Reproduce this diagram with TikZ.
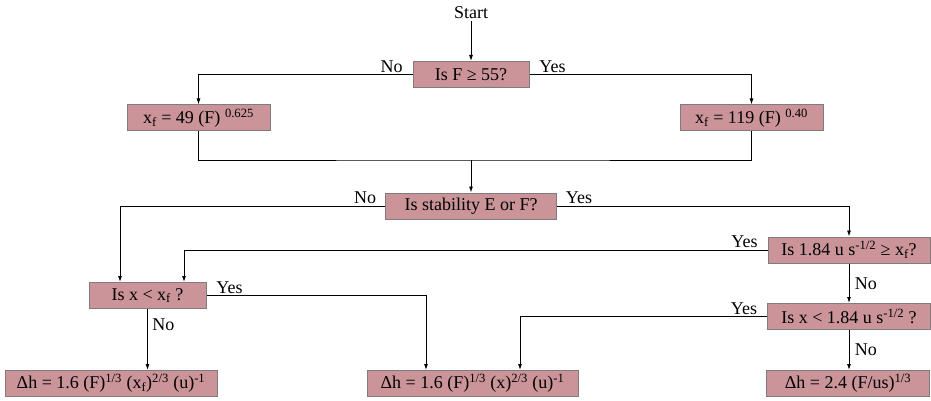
\documentclass[tikz,border=0pt]{standalone}
\usepackage{fontspec}
\setmainfont{Liberation Serif}
\usetikzlibrary{positioning, arrows.meta}
\definecolor{BoxFill}{RGB}{202,148,153}
\definecolor{BoxLine}{RGB}{125,125,125}
\tikzset{
  box/.style={draw=BoxLine, fill=BoxFill, line width=1pt, minimum height=26pt, inner sep=0pt, font=\fontsize{18}{20}\selectfont},
  link/.style={line width=0.9pt, -{Latex[length=6pt,width=4pt]}},
  plain/.style={line width=0.9pt},
  lbl/.style={font=\fontsize{18}{20}\selectfont, inner sep=1.5pt}
}
\begin{document}
\begin{tikzpicture}[x=1pt,y=-1pt]
  \useasboundingbox (0,0) rectangle (931,401);
  \node[lbl] (start) at (471,13) {Start};
  \node[box, minimum width=116pt] (q1) at (471,74.5) {Is F ≥ 55?};
  \node[box, minimum width=143pt] (x1) at (198.5,118) {x\textsubscript{f} = 49 (F) \textsuperscript{0.625}};
  \node[box, minimum width=143pt] (x2) at (751.5,118) {x\textsubscript{f} = 119 (F) \textsuperscript{0.40}};
  \coordinate (join) at (471,160);
  \node[box, minimum width=171pt] (q2) at (471,206) {Is stability E or F?};
  \node[box, minimum width=162pt] (q4) at (849,250) {Is 1.84 u s\textsuperscript{-1/2} ≥ x\textsubscript{f}?};
  \node[box, minimum width=117pt] (q3) at (147.5,295.5) {Is x < x\textsubscript{f} ?};
  \node[box, minimum width=163pt] (q5) at (849,316.5) {Is x < 1.84 u s\textsuperscript{-1/2} ?};
  \node[box, minimum width=212pt] (r1) at (111,383.5) {Δh = 1.6 (F)\textsuperscript{1/3} (x\textsubscript{f})\textsuperscript{2/3} (u)\textsuperscript{-1}};
  \node[box, minimum width=211pt] (r2) at (472.5,383.5) {Δh = 1.6 (F)\textsuperscript{1/3} (x)\textsuperscript{2/3} (u)\textsuperscript{-1}};
  \node[box, minimum width=163pt] (r3) at (848,383.5) {Δh = 2.4 (F/us)\textsuperscript{1/3}};

  \draw[link] (start) -- (q1);
  \draw[link] (q1.west) node[lbl, above left=0pt and 8pt] {No} -| (x1.north);
  \draw[link] (q1.east) node[lbl, above right=0pt and 8pt] {Yes} -| (x2.north);
  \draw[plain] (x1.south) |- (join) -| (x2.south);
  \draw[link] (join) -- (q2.north);
  \draw[link] (q2.west) node[lbl, above left=0pt and 7pt] {No} -| ([xshift=-27.5pt]q3.north);
  \draw[link] (q2.east) node[lbl, above right=0pt and 7pt] {Yes} -| (q4.north);
  \draw[link] (q4.west) node[lbl, above left=0pt and 8pt] {Yes} -| ([xshift=36.5pt]q3.north);
  \draw[link] (q4.south) -- node[lbl, right=4pt] {No} (q4.south |- q5.north);
  \draw[link] (q3.east) node[lbl, above right=0pt and 8pt] {Yes} -| ([xshift=-46.5pt]r2.north);
  \draw[link] (q3.south) -- node[lbl, right=3pt, pos=0.25] {No} (q3.south |- r1.north);
  \draw[link] (q5.west) node[lbl, above left=0pt and 8pt] {Yes} -| ([xshift=47.5pt]r2.north);
  \draw[link] (q5.south) -- node[lbl, right=4pt] {No} (q5.south |- r3.north);
\end{tikzpicture}
\end{document}
